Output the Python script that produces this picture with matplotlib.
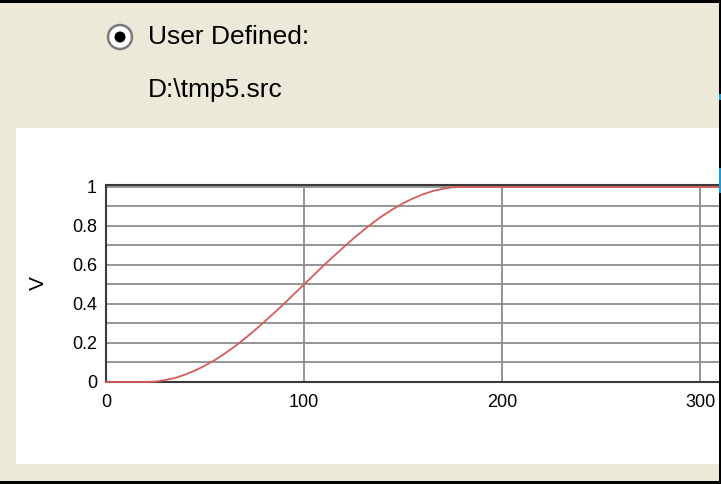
import matplotlib
matplotlib.use("Agg")
import matplotlib.pyplot as plt
from matplotlib.patches import Rectangle, Circle
from matplotlib.ticker import MultipleLocator

# curve
x_vals = [0, 20, 25, 30, 35, 40, 45, 50, 55, 60, 65, 70, 75, 80, 85, 90, 95, 100,
          105, 110, 115, 120, 125, 130, 135, 140, 145, 150, 155, 160, 165, 170, 175, 180, 330]
v_vals = [0, 0, 0.002, 0.010, 0.021, 0.038, 0.059, 0.084, 0.113, 0.146, 0.182, 0.222, 0.264, 0.309, 0.355,
          0.402, 0.451, 0.500, 0.549, 0.598, 0.645, 0.691, 0.736, 0.778, 0.818, 0.854, 0.887, 0.916,
          0.941, 0.962, 0.979, 0.990, 0.998, 1.0, 1.0]
x_ticks = [0, 100, 200, 300]
y_ticks = [0, 0.2, 0.4, 0.6, 0.8, 1]
y_tick_labels = ["0", "0.2", "0.4", "0.6", "0.8", "1"]

BEIGE = "#ECE9D8"
RED = "#d65c5c"
GRID = "#8c8c8c"
FONT = "Liberation Sans"

W, H = 721, 484
fig = plt.figure(figsize=(W / 100, H / 100), dpi=100, facecolor=BEIGE)

# background layer in pixel coordinates
bg = fig.add_axes([0, 0, 1, 1], zorder=0)
bg.set_xlim(0, W)
bg.set_ylim(H, 0)
bg.axis("off")
bg.add_patch(Rectangle((16, 128), W - 16, 464 - 128, fc="white", ec="none"))

# radio button + labels
bg.add_patch(Circle((120, 37), 12, fc="white", ec="#7a7a7a", lw=1.8))
bg.add_patch(Circle((120, 37), 5.5, fc="black", ec="none"))
bg.text(148, 37, "User Defined:", fontsize=19, family=FONT, va="center", ha="left")
bg.text(148, 90, "D:\\tmp5.src", fontsize=19, family=FONT, va="center", ha="left")

# plot axes (runs past the right edge, like the clipped window)
x_scale = 1.98
ax_left, ax_bottom, ax_top = 106, 382, 185
x_max = 330
ax = fig.add_axes([ax_left / W, (H - ax_bottom) / H,
                   x_max * x_scale / W, (ax_bottom - ax_top) / H], zorder=1)
ax.set_facecolor("white")
ax.plot(x_vals, v_vals, color=RED, lw=1.3, zorder=3, clip_on=False)
ax.set_xlim(0, x_max)
ax.set_ylim(0, 1.01)

ax.set_xticks(x_ticks)
ax.set_yticks(y_ticks)
ax.set_yticklabels(y_tick_labels)
ax.yaxis.set_minor_locator(MultipleLocator(0.1))
ax.grid(True, which="both", color=GRID, lw=1.3)
ax.set_axisbelow(True)
ax.tick_params(which="both", length=0)
ax.tick_params(axis="y", pad=6.5, labelsize=13)
ax.tick_params(axis="x", pad=8.5, labelsize=13)
for lab in ax.get_xticklabels() + ax.get_yticklabels():
    lab.set_family(FONT)

for side in ["left", "bottom", "top"]:
    ax.spines[side].set_color("#3a3a3a")
    ax.spines[side].set_linewidth(1.5)
ax.spines["right"].set_visible(False)

ax.set_ylabel("V", fontsize=15, family=FONT, va="center")
ax.yaxis.set_label_coords((38 - ax_left) / (x_max * x_scale), 0.5)

# window borders on top
ov = fig.add_axes([0, 0, 1, 1], zorder=5)
ov.set_xlim(0, W)
ov.set_ylim(H, 0)
ov.axis("off")
ov.patch.set_alpha(0)
ov.add_patch(Rectangle((0, 0), W, 3, fc="black", ec="none"))
ov.add_patch(Rectangle((0, H - 3), W, 3, fc="black", ec="none"))
ov.add_patch(Rectangle((W - 2, 0), 2, H, fc="black", ec="none"))
ov.add_patch(Rectangle((W - 2, 94), 2, 6, fc="#1a9ad6", ec="none"))
ov.add_patch(Rectangle((W - 2, 168), 2, 25, fc="#1a9ad6", ec="none"))

fig.savefig("out.png", dpi=100, facecolor=BEIGE)
